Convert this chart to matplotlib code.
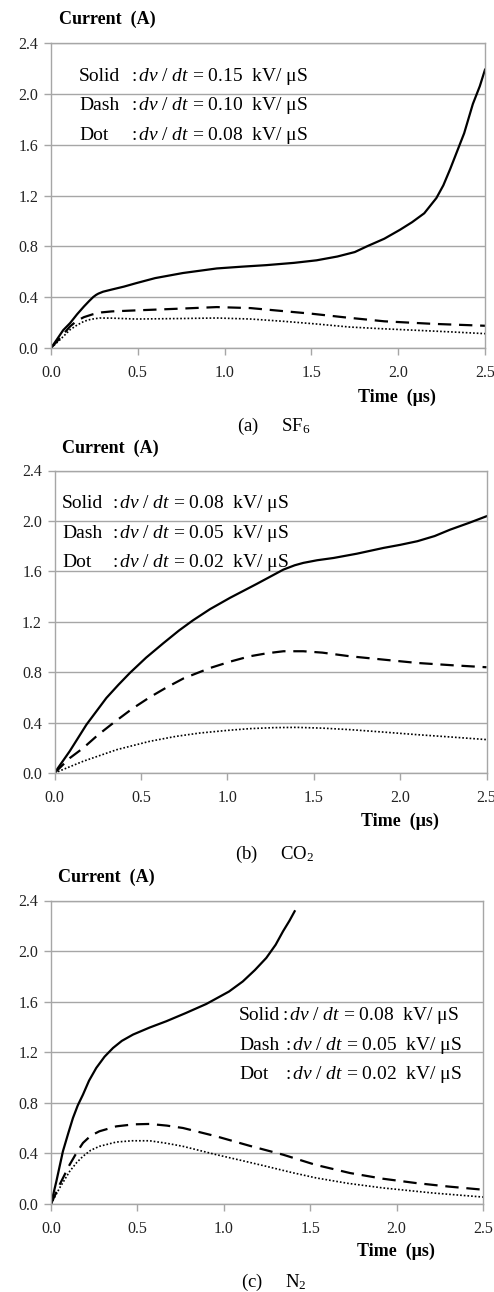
import matplotlib
matplotlib.use("Agg")
import matplotlib.pyplot as plt

plt.rcParams['font.family'] = ['Liberation Serif', 'DejaVu Serif']
plt.rcParams['mathtext.fontset'] = 'custom'
plt.rcParams['mathtext.rm'] = 'Liberation Serif'
plt.rcParams['mathtext.it'] = 'Liberation Serif:italic'

W, H = 494, 1292

# ---------------- data ----------------
# (a) SF6
a_solid_t = [0.0, 0.033, 0.07, 0.11, 0.15, 0.19, 0.22, 0.244, 0.26, 0.273, 0.3, 0.35, 0.42, 0.49, 0.6, 0.76, 0.955, 1.1, 1.24, 1.4, 1.53, 1.65, 1.75, 1.82, 1.92, 2.01, 2.08, 2.15, 2.22, 2.26, 2.30, 2.34, 2.38, 2.43, 2.47, 2.5]
a_solid_i = [0.0, 0.065, 0.14, 0.196, 0.265, 0.327, 0.37, 0.402, 0.418, 0.428, 0.443, 0.46, 0.483, 0.51, 0.55, 0.59, 0.626, 0.64, 0.652, 0.67, 0.69, 0.72, 0.755, 0.80, 0.86, 0.93, 0.99, 1.06, 1.18, 1.28, 1.41, 1.55, 1.69, 1.92, 2.06, 2.19]
a_dash_t = [0.0, 0.052, 0.11, 0.15, 0.19, 0.24, 0.29, 0.35, 0.49, 0.75, 0.955, 1.15, 1.3, 1.5, 1.7, 1.92, 2.2, 2.5]
a_dash_i = [0.0, 0.079, 0.17, 0.215, 0.243, 0.265, 0.28, 0.288, 0.296, 0.31, 0.322, 0.314, 0.295, 0.27, 0.24, 0.21, 0.19, 0.175]
a_dot_t = [0.0, 0.052, 0.11, 0.15, 0.19, 0.23, 0.28, 0.35, 0.49, 0.75, 0.955, 1.15, 1.34, 1.52, 1.72, 1.9, 2.11, 2.3, 2.5]
a_dot_i = [0.0, 0.065, 0.144, 0.18, 0.21, 0.226, 0.236, 0.235, 0.228, 0.232, 0.236, 0.228, 0.21, 0.19, 0.165, 0.152, 0.139, 0.127, 0.113]

# (b) CO2
b_solid_t = [0.0, 0.089, 0.185, 0.30, 0.37, 0.437, 0.53, 0.63, 0.72, 0.80, 0.9, 1.016, 1.17, 1.325, 1.39, 1.44, 1.52, 1.615, 1.75, 1.905, 2.0, 2.10, 2.2, 2.29, 2.4, 2.5]
b_solid_i = [0.0, 0.175, 0.384, 0.595, 0.70, 0.795, 0.915, 1.03, 1.13, 1.21, 1.30, 1.39, 1.50, 1.614, 1.648, 1.667, 1.688, 1.706, 1.74, 1.786, 1.81, 1.839, 1.88, 1.931, 1.985, 2.037]
b_dash_t = [0.0, 0.089, 0.166, 0.25, 0.34, 0.45, 0.55, 0.65, 0.746, 0.90, 1.02, 1.13, 1.23, 1.325, 1.44, 1.55, 1.71, 1.9, 2.10, 2.3, 2.5]
b_dash_i = [0.0, 0.119, 0.198, 0.30, 0.397, 0.51, 0.60, 0.68, 0.75, 0.833, 0.885, 0.926, 0.95, 0.966, 0.966, 0.955, 0.926, 0.90, 0.873, 0.855, 0.839]
b_dot_t = [0.0, 0.166, 0.36, 0.55, 0.7, 0.84, 1.0, 1.13, 1.27, 1.40, 1.55, 1.71, 1.9, 2.10, 2.3, 2.5]
b_dot_i = [0.0, 0.093, 0.185, 0.251, 0.29, 0.317, 0.338, 0.352, 0.36, 0.362, 0.356, 0.344, 0.325, 0.304, 0.285, 0.265]

# (c) N2
c_solid_t = [0.0, 0.031, 0.069, 0.10, 0.127, 0.155, 0.185, 0.22, 0.262, 0.31, 0.359, 0.41, 0.475, 0.57, 0.667, 0.78, 0.899, 0.95, 1.03, 1.11, 1.18, 1.246, 1.30, 1.343, 1.38, 1.41]
c_solid_i = [0.0, 0.179, 0.417, 0.56, 0.68, 0.78, 0.865, 0.975, 1.076, 1.165, 1.234, 1.29, 1.34, 1.395, 1.445, 1.51, 1.582, 1.62, 1.68, 1.76, 1.85, 1.946, 2.05, 2.157, 2.24, 2.315]
c_dash_t = [0.0, 0.05, 0.108, 0.15, 0.185, 0.23, 0.28, 0.378, 0.48, 0.571, 0.67, 0.764, 0.957, 1.15, 1.343, 1.53, 1.73, 1.92, 2.11, 2.3, 2.5]
c_dash_i = [0.0, 0.153, 0.311, 0.41, 0.483, 0.54, 0.575, 0.614, 0.63, 0.633, 0.62, 0.601, 0.535, 0.46, 0.39, 0.31, 0.245, 0.2, 0.166, 0.138, 0.113]
c_dot_t = [0.0, 0.05, 0.108, 0.15, 0.185, 0.23, 0.28, 0.378, 0.47, 0.571, 0.67, 0.764, 0.957, 1.1, 1.246, 1.39, 1.535, 1.72, 1.921, 2.21, 2.5]
c_dot_i = [0.0, 0.127, 0.258, 0.33, 0.377, 0.425, 0.456, 0.49, 0.50, 0.50, 0.48, 0.456, 0.39, 0.345, 0.298, 0.25, 0.206, 0.163, 0.127, 0.087, 0.055]

x_ticks = [0.0, 0.5, 1.0, 1.5, 2.0, 2.5]
y_ticks = [0.0, 0.4, 0.8, 1.2, 1.6, 2.0, 2.4]

a_rates = ["0.15", "0.10", "0.08"]
b_rates = ["0.08", "0.05", "0.02"]
c_rates = ["0.08", "0.05", "0.02"]
series_names = ["Solid", "Dash", "Dot"]

fig = plt.figure(figsize=(W / 100, H / 100), dpi=100)

def px(x, y):
    return x / W, 1 - y / H

def make_axes(l, r, t, b):
    return fig.add_axes([l / W, 1 - b / H, (r - l) / W, (b - t) / H])

gray = '#a6a6a6'

def style(ax):
    ax.set_xlim(0, 2.5)
    ax.set_ylim(0, 2.4)
    ax.set_xticks(x_ticks)
    ax.set_yticks(y_ticks)
    ax.set_xticklabels([f"{v:.1f}" for v in x_ticks])
    ax.set_yticklabels([f"{v:.1f}" for v in y_ticks])
    ax.grid(axis='y', color=gray, linewidth=1.0)
    ax.set_axisbelow(True)
    for s in ax.spines.values():
        s.set_color(gray)
        s.set_linewidth(1.0)
    ax.tick_params(axis='both', direction='out', length=5, width=1.0,
                   color=gray, labelsize=11.5, labelcolor='#222222', pad=4)
    ax.tick_params(axis='x', pad=7)

def draw(ax, st, si, dt_, di, ot, oi):
    ax.plot(st, si, color='black', lw=1.6, solid_joinstyle='round')
    ax.plot(dt_, di, color='black', lw=1.6, dashes=(6, 3.5))
    ax.plot(ot, oi, color='black', lw=1.2, dashes=(1, 1.2))

def legend(x0, xc, y0, dy, rates, gap=0):
    for k, (nm, rt) in enumerate(zip(series_names, rates)):
        yy = y0 + k * dy
        fig.text(*px(x0, yy), nm, fontsize=14, va='baseline', ha='left')
        fig.text(*px(xc + (gap if k > 0 else 0), yy),
                 r":$\,dv\ /\ dt$ = " + rt + "  kV/ μS",
                 fontsize=14, va='baseline', ha='left')

# panel a
ax1 = make_axes(51, 485, 43, 348)
style(ax1)
draw(ax1, a_solid_t, a_solid_i, a_dash_t, a_dash_i, a_dot_t, a_dot_i)
fig.text(*px(59, 24), "Current  (A)", fontsize=13, fontweight='bold', va='baseline')
fig.text(*px(358, 402), "Time  (μs)", fontsize=13, fontweight='bold', va='baseline')
fig.text(*px(237, 431), "(a)     SF$_6$", fontsize=13.5, va='baseline')
legend(79, 131, 81, 29.5, a_rates)

# panel b
ax2 = make_axes(54.5, 486.5, 470.5, 773)
style(ax2)
draw(ax2, b_solid_t, b_solid_i, b_dash_t, b_dash_i, b_dot_t, b_dot_i)
fig.text(*px(62, 453), "Current  (A)", fontsize=13, fontweight='bold', va='baseline')
fig.text(*px(361, 826), "Time  (μs)", fontsize=13, fontweight='bold', va='baseline')
fig.text(*px(235, 859), "(b)     CO$_2$", fontsize=13.5, va='baseline')
legend(62, 112, 508, 29.5, b_rates)

# panel c
ax3 = make_axes(51, 483, 900.5, 1204)
style(ax3)
draw(ax3, c_solid_t, c_solid_i, c_dash_t, c_dash_i, c_dot_t, c_dot_i)
fig.text(*px(58, 882), "Current  (A)", fontsize=13, fontweight='bold', va='baseline')
fig.text(*px(357, 1256), "Time  (μs)", fontsize=13, fontweight='bold', va='baseline')
fig.text(*px(241, 1287), "(c)     N$_2$", fontsize=13.5, va='baseline')
legend(239, 282, 1020, 29.5, c_rates, gap=3)

fig.savefig("out.png", dpi=100)
